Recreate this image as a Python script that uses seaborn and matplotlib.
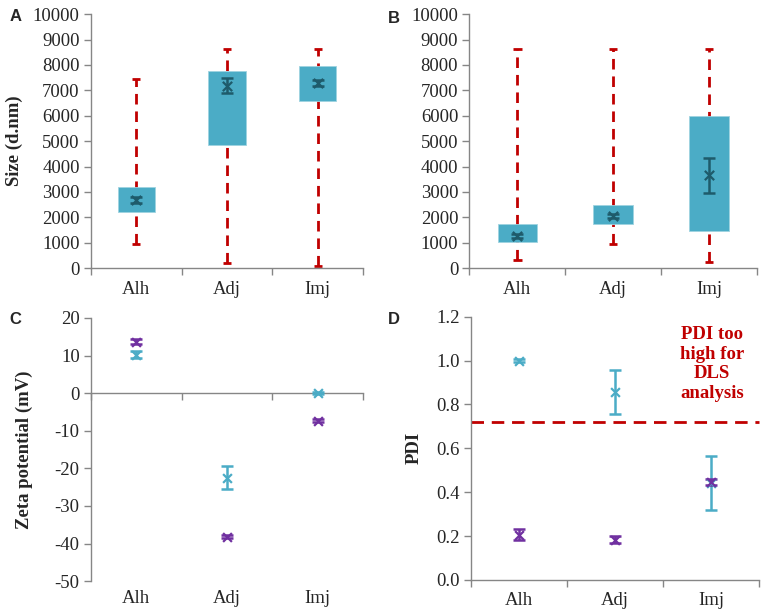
import numpy as np
import matplotlib
matplotlib.use("Agg")
import matplotlib.pyplot as plt
import seaborn as sns

categories = ["Alh", "Adj", "Imj"]

# Panel A - size distributions
a_box_low = [2220, 4860, 6590]
a_box_high = [3190, 7780, 7970]
a_whisk_low = [950, 200, 90]
a_whisk_high = [7450, 8620, 8620]
a_mean = [2690, 7180, 7280]
a_err = [130, 300, 120]

# Panel B - size distributions
b_box_low = [1030, 1750, 1470]
b_box_high = [1740, 2500, 5990]
b_whisk_low = [330, 960, 260]
b_whisk_high = [8640, 8640, 8640]
b_mean = [1270, 2070, 3650]
b_err = [80, 80, 690]

# Panel C - zeta potential
c_cyan = [10.2, -22.5, 0.0]
c_cyan_err = [0.9, 3.1, 0.3]
c_purple = [13.7, -38.2, -7.3]
c_purple_err = [0.6, 0.4, 0.4]

# Panel D - PDI
d_cyan = [1.0, 0.857, 0.443]
d_cyan_err = [0.005, 0.1, 0.123]
d_purple = [0.205, 0.184, 0.447]
d_purple_err = [0.025, 0.015, 0.012]
pdi_limit = 0.72

sns.set_theme(style="white")
plt.rcParams['font.family'] = ['Liberation Serif', 'DejaVu Serif']
plt.rcParams['axes.unicode_minus'] = False

TEAL = "#4BACC6"
DARKTEAL = "#1E5B6B"
RED = "#C00000"
PURPLE = "#7030A0"
GRAY = "#868686"
FS = 13.5

fig = plt.figure(figsize=(7.63, 6.15), dpi=100)
axA = fig.add_axes([0.119, 0.564, 0.357, 0.413])
axB = fig.add_axes([0.615, 0.564, 0.377, 0.413])
axC = fig.add_axes([0.119, 0.055, 0.357, 0.428])
axD = fig.add_axes([0.617, 0.057, 0.378, 0.428])

xpos = np.arange(len(categories)) + 0.5


def style_axes(ax, labels_on_axis=True):
    for s in ["top", "right"]:
        ax.spines[s].set_visible(False)
    for s in ["left", "bottom"]:
        ax.spines[s].set_color(GRAY)
        ax.spines[s].set_linewidth(1.0)
    ax.set_xlim(0, 3)
    ax.set_xticks([0, 1, 2, 3])
    ax.set_xticklabels([])
    ax.tick_params(axis="x", which="major", length=5, color=GRAY, direction="out", width=1.0)
    ax.tick_params(axis="y", which="major", length=5, color=GRAY, direction="out", width=1.0,
                   labelsize=FS, pad=3)
    ax.tick_params(left=True, bottom=True)
    if labels_on_axis:
        ax.set_xticks(xpos, minor=True)
        ax.set_xticklabels(categories, minor=True, fontsize=FS)
        ax.tick_params(axis="x", which="minor", length=0, pad=9)
    else:
        for xp, c in zip(xpos, categories):
            ax.text(xp, -0.035, c, transform=ax.get_xaxis_transform(), ha="center",
                    va="top", fontsize=FS)


def box_panel(ax, lo, hi, wlo, whi, mean, err):
    # whiskers
    for xp, l, h in zip(xpos, wlo, whi):
        ln, = ax.plot([xp, xp], [l, h], color=RED, lw=2.0, zorder=1)
        ln.set_dashes([3.8, 2.5])
        ax.plot([xp - 0.045, xp + 0.045], [l, l], color=RED, lw=2.0, zorder=1, solid_capstyle="butt")
        ax.plot([xp - 0.045, xp + 0.045], [h, h], color=RED, lw=2.0, zorder=1, solid_capstyle="butt")
    ax.bar(xpos, np.array(hi) - np.array(lo), bottom=lo, width=0.41, color=TEAL,
           edgecolor="#9fd3e0", linewidth=0.6, zorder=2)
    ax.errorbar(xpos, mean, yerr=err, fmt="none", ecolor=DARKTEAL, elinewidth=1.8,
                capsize=4, capthick=1.8, zorder=3)
    sns.scatterplot(x=xpos, y=mean, marker="x", s=45, color=DARKTEAL, linewidth=1.6, ax=ax,
                    zorder=4, legend=False)
    ax.set_ylim(0, 10000)
    ax.set_yticks(np.arange(0, 10001, 1000))
    style_axes(ax)


box_panel(axA, a_box_low, a_box_high, a_whisk_low, a_whisk_high, a_mean, a_err)
box_panel(axB, b_box_low, b_box_high, b_whisk_low, b_whisk_high, b_mean, b_err)
axA.set_ylabel("Size (d.nm)", fontsize=FS, fontweight="bold")
axA.yaxis.set_label_coords(-0.25, 0.5)


def point_panel(ax, vals1, err1, col1, vals2, err2, col2):
    for vals, err, col in [(vals1, err1, col1), (vals2, err2, col2)]:
        ax.errorbar(xpos, vals, yerr=err, fmt="none", ecolor=col, elinewidth=1.8,
                    capsize=4, capthick=1.8, zorder=3)
        sns.scatterplot(x=xpos, y=vals, marker="x", s=40, color=col, linewidth=1.6, ax=ax,
                        zorder=4, legend=False)


# Panel C
point_panel(axC, c_cyan, c_cyan_err, TEAL, c_purple, c_purple_err, PURPLE)
axC.set_ylim(-50, 20)
axC.set_yticks(np.arange(-50, 21, 10))
style_axes(axC, labels_on_axis=False)
axC.spines["bottom"].set_position(("data", 0))
axC.set_ylabel("Zeta potential (mV)", fontsize=FS, fontweight="bold")
axC.yaxis.set_label_coords(-0.213, 0.5)

# Panel D
point_panel(axD, d_cyan, d_cyan_err, TEAL, d_purple, d_purple_err, PURPLE)
ln, = axD.plot([0, 3], [pdi_limit, pdi_limit], color=RED, lw=2.0, zorder=2, clip_on=False)
ln.set_dashes([4.5, 2.8])
axD.set_ylim(0, 1.2)
axD.set_yticks(np.arange(0, 1.21, 0.2))
axD.set_yticklabels([f"{v:.1f}" for v in np.arange(0, 1.21, 0.2)])
style_axes(axD)
axD.set_ylabel("PDI", fontsize=FS, fontweight="bold")
axD.yaxis.set_label_coords(-0.167, 0.5)
axD.text(2.51, 0.985, "PDI too\nhigh for\nDLS\nanalysis", ha="center", va="center",
         color=RED, fontsize=13.5, fontweight="bold", linespacing=1.2)

# Panel letters
for lbl, (x, y) in zip("ABCD", [(0.012, 0.985), (0.508, 0.982), (0.012, 0.493), (0.508, 0.493)]):
    fig.text(x, y, lbl, fontsize=12, fontweight="bold", family=["Liberation Sans", "DejaVu Sans"],
             ha="left", va="top")

fig.savefig("out.png", dpi=100)
